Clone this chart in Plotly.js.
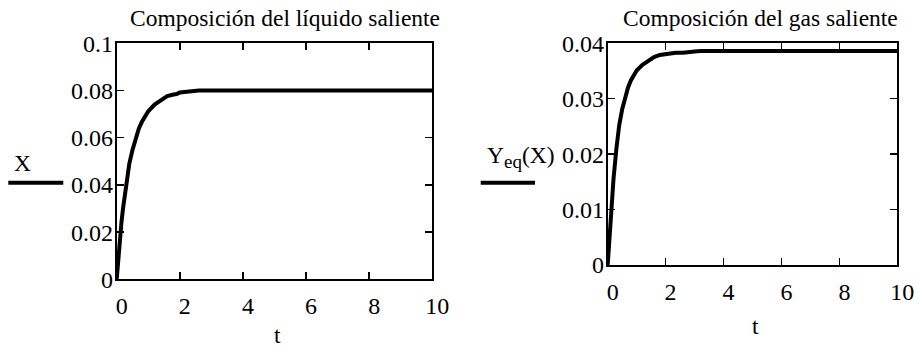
<!DOCTYPE html>
<html>
<head>
<meta charset="utf-8">
<script src="https://cdn.plot.ly/plotly-3.0.1.min.js"></script>
<style>
  html, body { margin: 0; padding: 0; background: #fff; }
  #chart { width: 919px; height: 348px; }
</style>
</head>
<body>
<div id="chart"></div>
<script>
// Time samples shared by both curves
const t = [0, 0.05, 0.1, 0.15, 0.2, 0.3, 0.4, 0.5, 0.6, 0.7, 0.8, 0.9, 1.0, 1.2, 1.4, 1.6, 1.8, 1.9, 2.0, 2.2, 2.35, 2.45, 2.6, 3, 3.2, 4, 6, 8, 10];

// Outlet liquid composition X(t)
const X = [0, 0.009, 0.017, 0.024, 0.030, 0.041, 0.049, 0.0548, 0.0600, 0.0638, 0.0668, 0.0692, 0.0712, 0.0740, 0.0760, 0.0776, 0.0783, 0.0785, 0.0792, 0.0794, 0.0795, 0.0799, 0.0800, 0.0800, 0.0800, 0.0800, 0.0800, 0.0800, 0.0800];

// Outlet gas composition Yeq(X(t))
const Yeq = [0, 0.0045, 0.0088, 0.0125, 0.0155, 0.0210, 0.0253, 0.0281, 0.0303, 0.0320, 0.0333, 0.0343, 0.0351, 0.0361, 0.0369, 0.0375, 0.0379, 0.0380, 0.0381, 0.0382, 0.0383, 0.0383, 0.0383, 0.0385, 0.0386, 0.0386, 0.0386, 0.0386, 0.0386];

// Tick positions and labels
const xTickVals = [0, 2, 4, 6, 8, 10];
const xTickText = ['0', '2', '4', '6', '8', '10'];
const y1TickVals = [0, 0.02, 0.04, 0.06, 0.08, 0.1];
const y1TickText = ['0', '0.02', '0.04', '0.06', '0.08', '0.1'];
const y2TickVals = [0, 0.01, 0.02, 0.03, 0.04];
const y2TickText = ['0', '0.01', '0.02', '0.03', '0.04'];

const FONT = '"Liberation Serif", serif';
const W = 919, H = 348;
const px = v => v / W;          // horizontal pixel -> paper fraction
const py = v => 1 - v / H;      // vertical pixel (from top) -> paper fraction

const lineStyle = { color: '#000', width: 4 };

const traces = [
  { x: t, y: X, xaxis: 'x', yaxis: 'y', mode: 'lines', line: lineStyle, hoverinfo: 'skip' },
  { x: t, y: Yeq, xaxis: 'x2', yaxis: 'y2', mode: 'lines', line: lineStyle, hoverinfo: 'skip' }
];

function frameAxis(extra) {
  return Object.assign({
    showgrid: false,
    zeroline: false,
    showline: true,
    linecolor: '#000',
    linewidth: 2,
    mirror: 'ticks',
    ticks: 'inside',
    ticklen: 7,
    tickwidth: 1.5,
    tickcolor: '#000',
    tickmode: 'array',
    tickfont: { family: FONT, size: 24, color: '#000' },
    fixedrange: true
  }, extra);
}

const annText = (text, x, y, anchor, yanchor) => ({
  text: text, xref: 'paper', yref: 'paper', x: px(x), y: py(y),
  xanchor: anchor || 'center', yanchor: yanchor || 'middle', showarrow: false,
  font: { family: FONT, size: 23.5, color: '#000' }
});

const xExtra = { ticklabelstandoff: 4, ticklabelshift: 5 };
const yExtra = { ticklabelstandoff: -3 };

const layout = {
  width: W, height: H,
  margin: { l: 0, r: 0, t: 0, b: 0 },
  paper_bgcolor: '#fff',
  plot_bgcolor: '#fff',
  showlegend: false,
  font: { family: FONT, color: '#000' },
  xaxis: frameAxis(Object.assign({ domain: [px(116.7), px(432.3)], range: [0, 10], anchor: 'y',
    tickvals: xTickVals, ticktext: xTickText }, xExtra)),
  yaxis: frameAxis(Object.assign({ domain: [py(279.3), py(43.3)], range: [0, 0.1], anchor: 'x',
    tickvals: y1TickVals, ticktext: y1TickText }, yExtra)),
  xaxis2: frameAxis(Object.assign({ domain: [px(607.7), px(897.3)], range: [0, 10], anchor: 'y2',
    tickvals: xTickVals, ticktext: xTickText }, xExtra)),
  yaxis2: frameAxis(Object.assign({ domain: [py(265), py(43.3)], range: [0, 0.04], anchor: 'x2',
    tickvals: y2TickVals, ticktext: y2TickText }, yExtra)),
  annotations: [
    annText('Composición del líquido saliente', 284.5, 18),
    annText('Composición del gas saliente', 760.5, 18),
    annText('t', 277, 335),
    annText('t', 755, 326),
    annText('X', 22, 163),
    annText('Y<sub><span style="font-size:19px">eq</span></sub>(X)', 521, 157)
  ],
  shapes: [
    { type: 'line', xref: 'paper', yref: 'paper', x0: px(8.3), x1: px(63.3), y0: py(182.7), y1: py(182.7),
      line: { color: '#000', width: 4 } },
    { type: 'line', xref: 'paper', yref: 'paper', x0: px(480.7), x1: px(535), y0: py(182.7), y1: py(182.7),
      line: { color: '#000', width: 4 } }
  ]
};

Plotly.newPlot('chart', traces, layout, { displayModeBar: false, staticPlot: true });
</script>
</body>
</html>
